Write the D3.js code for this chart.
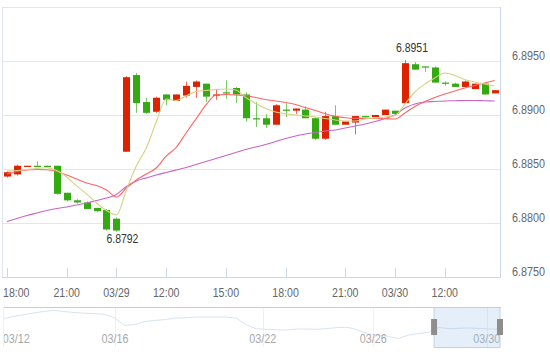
<!DOCTYPE html>
<html><head><meta charset="utf-8">
<script src="https://cdn.jsdelivr.net/npm/d3@7/dist/d3.min.js"></script>
<style>
body{margin:0;background:#fff}
svg{display:block}
text{font-family:"Liberation Sans Narrow","Arial Narrow","Liberation Sans",Arial,sans-serif;font-size:13px}
</style>
</head><body>
<svg id="c" width="550" height="352"></svg>
<script>
// ---- data ----
const open  = [6.8843,6.8845,6.8852,6.8853,6.8853,6.8853,6.8828,6.8821,6.8819,6.8814,6.8812,6.8804,6.8866,6.8937,6.8912,6.8903,6.8919,6.8913,6.8918,6.8926,6.8929,6.8918,6.8921,6.8925,6.8919,6.8897,6.8897,6.8891,6.8905,6.8904,6.8905,6.8897,6.8878,6.8899,6.8891,6.8893,6.8899,6.8898,6.8900,6.8904,6.8911,6.8947,6.8945,6.8944,6.8930,6.8929,6.8926,6.8924,6.8929,6.8920];
const high  = [6.8848,6.8854,6.8853,6.8857,6.8853,6.8853,6.8828,6.8822,6.8820,6.8814,6.8813,6.8805,6.8936,6.8939,6.8916,6.8917,6.8919,6.8919,6.8931,6.8932,6.8929,6.8924,6.8932,6.8926,6.8921,6.8912,6.8901,6.8910,6.8911,6.8906,6.8908,6.8898,6.8903,6.8909,6.8894,6.8899,6.8899,6.8900,6.8905,6.8904,6.8951,6.8949,6.8945,6.8945,6.8931,6.8930,6.8932,6.8929,6.8929,6.8923];
const low   = [6.8842,6.8844,6.8852,6.8852,6.8852,6.8826,6.8820,6.8818,6.8813,6.8810,6.8793,6.8792,6.8866,6.8902,6.8901,6.8902,6.8909,6.8913,6.8916,6.8916,6.8912,6.8914,6.8915,6.8911,6.8894,6.8889,6.8888,6.8891,6.8898,6.8901,6.8897,6.8877,6.8877,6.8891,6.8891,6.8882,6.8898,6.8898,6.8900,6.8900,6.8910,6.8942,6.8940,6.8930,6.8927,6.8926,6.8926,6.8924,6.8919,6.8920];
const close = [6.8847,6.8853,6.8853,6.8852,6.8852,6.8827,6.8821,6.8819,6.8813,6.8811,6.8794,6.8793,6.8935,6.8911,6.8902,6.8916,6.8914,6.8919,6.8927,6.8931,6.8917,6.8919,6.8920,6.8919,6.8897,6.8896,6.8891,6.8909,6.8904,6.8906,6.8897,6.8878,6.8899,6.8891,6.8894,6.8899,6.8898,6.8900,6.8905,6.8901,6.8948,6.8942,6.8944,6.8930,6.8929,6.8926,6.8931,6.8929,6.8919,6.8923];

const ma5  = [6.88480,6.88486,6.88495,6.88505,6.88511,6.88486,6.88426,6.88343,6.88269,6.88185,6.88116,6.88074,6.88306,6.88528,6.88694,6.88935,6.89148,6.89134,6.89176,6.89218,6.89227,6.89236,6.89241,6.89231,6.89162,6.89106,6.89060,6.89028,6.89011,6.89000,6.88991,6.88981,6.88968,6.88954,6.88944,6.88944,6.88963,6.88972,6.88981,6.88995,6.89102,6.89213,6.89287,6.89343,6.89389,6.89366,6.89329,6.89306,6.89287,6.89269];
const ma10 = [6.88454,6.88477,6.88491,6.88495,6.88493,6.88477,6.88444,6.88407,6.88370,6.88347,6.88306,6.88241,6.88324,6.88398,6.88454,6.88509,6.88620,6.88699,6.88833,6.88963,6.89093,6.89185,6.89190,6.89185,6.89181,6.89162,6.89144,6.89130,6.89116,6.89097,6.89069,6.89042,6.89011,6.88988,6.88974,6.88969,6.88969,6.88968,6.88965,6.88963,6.89019,6.89079,6.89125,6.89162,6.89194,6.89222,6.89250,6.89273,6.89296,6.89319];
const ma30 = [6.88014,6.88042,6.88069,6.88093,6.88116,6.88134,6.88148,6.88167,6.88185,6.88208,6.88231,6.88264,6.88338,6.88389,6.88417,6.88444,6.88468,6.88491,6.88514,6.88542,6.88569,6.88597,6.88625,6.88653,6.88681,6.88704,6.88727,6.88755,6.88782,6.88806,6.88824,6.88838,6.88852,6.88861,6.88880,6.88898,6.88917,6.88940,6.88968,6.89000,6.89065,6.89102,6.89120,6.89125,6.89130,6.89132,6.89134,6.89134,6.89132,6.89130];

const xTickIndex  = [0,6,11,16,22,28,34,39,44];
const xTickLabels = ["18:00","21:00","03/29","12:00","15:00","18:00","21:00","03/30","12:00"];
const yTickValues = [6.875,6.880,6.885,6.890,6.895];
const yGridValues = [6.880,6.885,6.890,6.895,6.900];

const navValues = [6.8863,6.8885,6.8902,6.8920,6.8935,6.8947,6.8935,6.8925,6.8918,6.8913,6.8908,6.8870,6.8795,6.8805,6.8835,6.8845,6.8855,6.8870,6.8872,6.8880,6.8880,6.8880,6.8880,6.8870,6.8800,6.8762,6.8757,6.8752,6.8750,6.8760,6.8760,6.8757,6.8765,6.8775,6.8777,6.8750,6.8710,6.8700,6.8685,6.8665,6.8700,6.8715,6.8730,6.8775,6.8763,6.8767,6.8770,6.8765,6.8760,6.8757];
const navTickPos    = [1.3,11.05,25.6,36.5,47.7];
const navTickLabels = ["03/12","03/16","03/22","03/26","03/30"];
const navGridPos    = [11.05,25.6,36.5,47.7];
const navWindow     = [42.5,49];

// ---- layout ----
const svg = d3.select("#c");
const L = 2, R = 499.5, T = 7, B = 277;
const x = d3.scaleLinear().domain([-0.5, open.length - 0.5]).range([L, R]);
const y = d3.scaleLinear().domain([6.875, 6.900]).range([B, T]);
const UP = "#dd2200", DOWN = "#33aa11";

// narrow text helper (condensed face not installed)
function narrow(sel, w) {
  sel.attr("textLength", w).attr("lengthAdjust", "spacingAndGlyphs");
}

// grid
svg.append("g").selectAll("line").data(yGridValues).join("line")
  .attr("x1", 3).attr("x2", 500)
  .attr("y1", d => Math.round(y(d)) + 0.5).attr("y2", d => Math.round(y(d)) + 0.5)
  .attr("stroke", "#e6e6e6");

// borders
svg.append("line").attr("x1", 2.5).attr("x2", 2.5).attr("y1", T).attr("y2", B)
  .attr("stroke", "#dfe5f0");
svg.append("line").attr("x1", 500.5).attr("x2", 500.5).attr("y1", T).attr("y2", B)
  .attr("stroke", "#ccd6eb");
svg.append("line").attr("x1", 2).attr("x2", 501).attr("y1", B + 0.5).attr("y2", B + 0.5)
  .attr("stroke", "#ccd6eb");

// x ticks
svg.append("g").selectAll("line").data(xTickIndex).join("line")
  .attr("x1", d => Math.round(x(d)) + 0.5).attr("x2", d => Math.round(x(d)) + 0.5)
  .attr("y1", B - 9).attr("y2", B)
  .attr("stroke", "#ccd6eb");

svg.append("g").selectAll("text").data(xTickIndex).join("text")
  .attr("x", (d, i) => i === 0 ? 3 : x(d))
  .attr("y", 297)
  .attr("text-anchor", (d, i) => i === 0 ? "start" : "middle")
  .attr("fill", "#666")
  .text((d, i) => xTickLabels[i])
  .call(narrow, 26.5);

// y labels
svg.append("g").selectAll("text").data(yTickValues).join("text")
  .attr("x", 512).attr("y", d => y(d) - 1.5)
  .attr("fill", "#666")
  .style("font-size", "12px")
  .text(d => d.toFixed(4))
  .call(narrow, 33);

// candles
const cg = svg.append("g");
const idx = d3.range(open.length);
cg.selectAll("line").data(idx).join("line")
  .attr("x1", i => Math.round(x(i)) + 0.5).attr("x2", i => Math.round(x(i)) + 0.5)
  .attr("y1", i => y(high[i])).attr("y2", i => y(low[i]))
  .attr("stroke", i => close[i] >= open[i] ? UP : DOWN)
  .attr("stroke-opacity", 0.65);
cg.selectAll("rect").data(idx).join("rect")
  .attr("x", i => Math.round(x(i)) - 3)
  .attr("width", 7)
  .attr("y", i => y(Math.max(open[i], close[i])))
  .attr("height", i => Math.max(1.2, Math.abs(y(open[i]) - y(close[i]))))
  .attr("fill", i => close[i] >= open[i] ? UP : DOWN);

// MA lines
const line = d3.line().x((d, i) => x(i)).y(d => y(d)).curve(d3.curveMonotoneX);
[[ma30, "#c864c8"], [ma10, "#ff6464"], [ma5, "#d6d184"]].forEach(([arr, col]) => {
  svg.append("path").datum(arr).attr("d", line)
    .attr("fill", "none").attr("stroke", col).attr("stroke-width", 1.1);
});

// extremes
const hiV = d3.max(high), hiI = high.indexOf(hiV);
const loV = d3.min(low), loI = low.indexOf(loV);
svg.append("text").attr("x", x(hiI) + 7).attr("y", y(hiV) - 8)
  .attr("text-anchor", "middle").attr("fill", "#333").text(hiV.toFixed(4)).call(narrow, 32);
svg.append("text").attr("x", x(loI) + 6).attr("y", y(loV) + 11)
  .attr("text-anchor", "middle").attr("fill", "#333").text(loV.toFixed(4)).call(narrow, 32);

// navigator
const NT = 307, NB = 347, NL = 3, NR = 500;
const nx = d3.scaleLinear().domain([0, navValues.length - 1]).range([NL, NR]);
const ny = d3.scaleLinear().domain([6.86, 6.896]).range([345, 309]);

svg.append("g").selectAll("line").data(navGridPos).join("line")
  .attr("x1", d => Math.round(nx(d)) + 0.5).attr("x2", d => Math.round(nx(d)) + 0.5)
  .attr("y1", NT).attr("y2", NB)
  .attr("stroke", "#eef0f4");

svg.append("path").datum(navValues)
  .attr("d", d3.line().x((d, i) => nx(i)).y(d => ny(d)))
  .attr("fill", "none").attr("stroke", "#d8e3f3").attr("stroke-width", 1);

svg.append("g").selectAll("text").data(navTickPos).join("text")
  .attr("x", d => nx(d)).attr("y", 343)
  .attr("text-anchor", "middle").attr("fill", "#a8a8a8")
  .text((d, i) => navTickLabels[i])
  .call(narrow, 27);

const wx0 = nx(navWindow[0]), wx1 = nx(navWindow[1]);
svg.append("rect").attr("x", wx0).attr("y", NT + 0.5)
  .attr("width", wx1 - wx0).attr("height", NB - NT)
  .attr("fill", "rgba(150,190,235,0.25)").attr("stroke", "#c3d0e3");
svg.append("line").attr("x1", NL).attr("x2", NR + 1).attr("y1", NT + 0.5).attr("y2", NT + 0.5)
  .attr("stroke", "#cccccc");
svg.append("line").attr("x1", NL + 0.5).attr("x2", NL + 0.5).attr("y1", NT).attr("y2", NB)
  .attr("stroke", "#f0f0f0");

svg.append("g").selectAll("rect").data(navWindow).join("rect")
  .attr("x", d => nx(d) - 3).attr("y", 319).attr("width", 6).attr("height", 16)
  .attr("fill", "#8e8e8e");
</script>
</body></html>
